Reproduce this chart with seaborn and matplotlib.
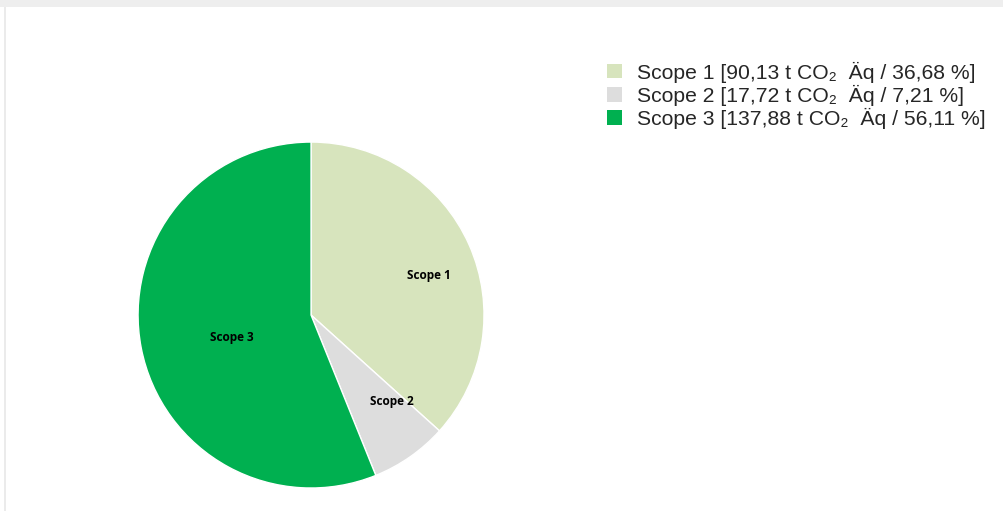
import matplotlib
matplotlib.use("Agg")
import matplotlib.pyplot as plt
import seaborn as sns
from matplotlib.patches import Rectangle

categories = ["Scope 1", "Scope 2", "Scope 3"]
tonnes = [90.13, 17.72, 137.88]
percent_labels = ["36,68", "7,21", "56,11"]
tonne_labels = ["90,13", "17,72", "137,88"]
colors = ["#D7E4BD", "#DDDDDD", "#00B050"]
# label positions relative to pie radius (style)
label_pos = [(0.68, 0.23), (0.47, -0.50), (-0.46, -0.13)]

sns.set_theme(style="white")
plt.rcParams['font.family'] = ['Liberation Sans', 'DejaVu Sans']

fig = plt.figure(figsize=(10.04, 5.11), dpi=100)
fig.patch.set_facecolor("white")

# top grey band and left border
fig.patches.append(Rectangle((0, 1 - 7/511), 1, 7/511, transform=fig.transFigure,
                             facecolor="#EEEEEE", edgecolor="none", zorder=0))
fig.patches.append(Rectangle((4/1004, 0), 2/1004, 1 - 7/511, transform=fig.transFigure,
                             facecolor="#EBEBEB", edgecolor="none", zorder=0))

ax = fig.add_axes([0.1375, 0.045, 0.3446, 0.677])
wedges, _ = ax.pie(tonnes, colors=colors, startangle=90, counterclock=False,
                   radius=1.0, wedgeprops=dict(edgecolor="white", linewidth=1.0))
ax.set_xlim(-1, 1)
ax.set_ylim(-1, 1)
ax.set_aspect("equal")
ax.axis("off")

for cat, (lx, ly) in zip(categories, label_pos):
    ax.text(lx, ly, cat, ha="center", va="center", fontsize=8.5, fontweight="bold",
            color="black", family=['Open Sans', 'DejaVu Sans'])

legend_labels = [f"{c} [{t} t CO\u2082  Äq / {p} %]"
                 for c, t, p in zip(categories, tonne_labels, percent_labels)]
leg = fig.legend(wedges, legend_labels, loc="upper left",
                 bbox_to_anchor=(599/1004, 1 - 53/511), frameon=False,
                 fontsize=15.2, handlelength=0.68, handleheight=0.68,
                 handletextpad=0.72, labelspacing=0.1, borderaxespad=0)
for h in leg.legend_handles:
    h.set_edgecolor("none")

fig.savefig("out.png", dpi=100, facecolor="white")
